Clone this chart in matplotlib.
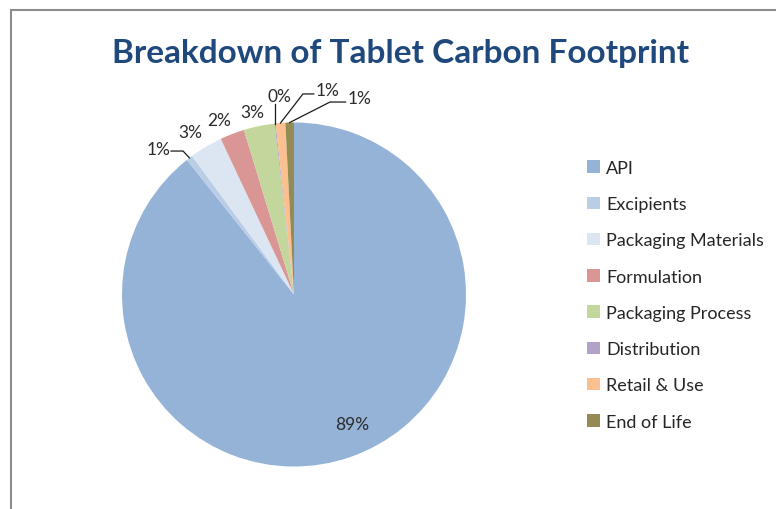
import matplotlib
matplotlib.use("Agg")
import matplotlib.pyplot as plt
import matplotlib.patches as mpatches
import numpy as np

plt.rcParams['font.family'] = ['Lato', 'DejaVu Sans']

# data (shares of the footprint, %)
categories = ["API", "Excipients", "Packaging Materials", "Formulation",
              "Packaging Process", "Distribution", "Retail & Use", "End of Life"]
shares = [89.3, 0.6, 3.1, 2.3, 2.9, 0.1, 0.9, 0.8]
colors = ["#95B3D7", "#B9CDE5", "#DCE6F2", "#D99694",
          "#C3D69B", "#B3A2C7", "#FAC090", "#948A54"]

# label placement (pie radius = 1), Excel-style best fit
label_pos = [(0.337, -0.753), (-0.79, 0.846), (-0.605, 0.945), (-0.436, 1.015),
             (-0.244, 1.061), (-0.087, 1.154), (0.198, 1.189), (0.384, 1.142)]

W, H = 776, 510
fig = plt.figure(figsize=(W / 100, H / 100), dpi=100)
fig.patch.set_facecolor("white")

# chart area border
fig.patches.append(mpatches.Rectangle((11 / W, -0.05), 1.1, 1 - 11 / H + 0.05,
                                      transform=fig.transFigure, fill=False,
                                      edgecolor="#8c8c8c", lw=1.5))

cx, cy, r = 294, 295.5, 172
half = 200
ax = fig.add_axes([(cx - half) / W, (H - cy - half) / H, 2 * half / W, 2 * half / H])
wedges, _ = ax.pie(shares, colors=colors, startangle=90, counterclock=False,
                   radius=1, wedgeprops=dict(linewidth=0))
ax.set_xlim(-half / r, half / r)
ax.set_ylim(-half / r, half / r)
ax.set_aspect("equal")
ax.axis("off")

total = sum(shares)
for i, (w, v) in enumerate(zip(wedges, shares)):
    pct = int(np.floor(100 * v / total + 0.5))
    x, y = label_pos[i]
    ax.text(x, y, f"{pct}%", ha="center", va="center", fontsize=12.5,
            color="#2b2b2b", clip_on=False)

def edge_point(w):
    mid = np.deg2rad((w.theta1 + w.theta2) / 2)
    return np.cos(mid), np.sin(mid)

lk = dict(color="#1a1a1a", lw=0.9, clip_on=False)
# Excipients
ex, ey = edge_point(wedges[1])
ax.plot([-0.715, -0.645, ex], [0.834, 0.834, ey], **lk)
# Distribution
dx, dy = edge_point(wedges[5])
ax.plot([dx, dx], [1.11, dy], **lk)
# Retail & Use
rx, ry = edge_point(wedges[6])
ax.plot([0.115, 0.052, rx], [1.166, 1.166, ry], **lk)
# End of Life
ox, oy = edge_point(wedges[7])
ax.plot([0.300, 0.209, ox], [1.119, 1.119, oy], **lk)

fig.text(401 / W, 1 - 53 / H, "Breakdown of Tablet Carbon Footprint",
         ha="center", va="center", fontsize=24, fontweight="bold", color="#1F497D")

handles = [mpatches.Patch(facecolor=c, edgecolor="none") for c in colors]
fig.legend(handles, categories, loc="upper left", bbox_to_anchor=(578 / W, 1 - 152 / H),
           frameon=False, fontsize=13, labelcolor="#262626", handlelength=0.7,
           handleheight=0.7, handletextpad=0.35, labelspacing=1.12, borderpad=0)

fig.savefig("out.png", dpi=100)
